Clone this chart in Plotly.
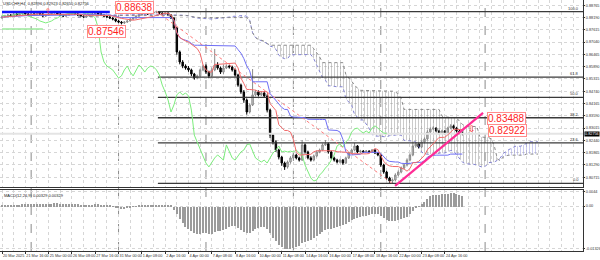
import plotly.graph_objects as go
from plotly.subplots import make_subplots
import pandas as pd

# ---------------- data ----------------
symbol_title = "USDCHF,H4  0.82896 0.82923 0.82650 0.82756"
macd_title = "MACD(12,26,9) 0.00329 0.00329"

first_open = 0.8818
closes = [
    0.8822, 0.8826, 0.8831, 0.8826, 0.8836, 0.8831, 0.8836, 0.8840, 0.8836, 0.8831,
    0.8836, 0.8831, 0.8840, 0.8836, 0.8826, 0.8831, 0.8836, 0.8840, 0.8845, 0.8836,
    0.8831, 0.8826, 0.8831, 0.8836, 0.8840, 0.8836, 0.8831, 0.8826, 0.8822, 0.8826,
    0.8831, 0.8836, 0.8840, 0.8836, 0.8831, 0.8826, 0.8822, 0.8817, 0.8812, 0.8803,
    0.8798, 0.8794, 0.8798, 0.8803, 0.8812, 0.8817, 0.8826, 0.8831, 0.8836, 0.8840,
    0.8836, 0.8840, 0.8845, 0.8846, 0.8840, 0.8836, 0.8840, 0.8831, 0.8817, 0.8770,
    0.8658, 0.8611, 0.8592, 0.8583, 0.8574, 0.8555, 0.8536, 0.8546, 0.8574, 0.8592,
    0.8564, 0.8546, 0.8574, 0.8597, 0.8583, 0.8564, 0.8583, 0.8592, 0.8588, 0.8574,
    0.8550, 0.8503, 0.8471, 0.8433, 0.8377, 0.8410, 0.8457, 0.8471, 0.8457, 0.8466,
    0.8452, 0.8386, 0.8269, 0.8237, 0.8199, 0.8166, 0.8138, 0.8120, 0.8143, 0.8162,
    0.8176, 0.8162, 0.8152, 0.8223, 0.8190, 0.8162, 0.8152, 0.8171, 0.8190, 0.8199,
    0.8223, 0.8228, 0.8190, 0.8162, 0.8152, 0.8143, 0.8152, 0.8138, 0.8162, 0.8185,
    0.8199, 0.8218, 0.8190, 0.8194, 0.8190, 0.8194, 0.8190, 0.8199, 0.8185, 0.8176,
    0.8129, 0.8096, 0.8068, 0.8054, 0.8059, 0.8082, 0.8096, 0.8115, 0.8129, 0.8152,
    0.8176, 0.8218, 0.8228, 0.8213, 0.8237, 0.8251, 0.8283, 0.8298, 0.8302, 0.8288,
    0.8279, 0.8288, 0.8279, 0.8302, 0.8312, 0.8302, 0.8288, 0.8279, 0.8276,
]
highs = [
    0.8830, 0.8832, 0.8836, 0.8835, 0.8841, 0.8840, 0.8842, 0.8845, 0.8844, 0.8839,
    0.8841, 0.8840, 0.8845, 0.8846, 0.8839, 0.8835, 0.8840, 0.8846, 0.8850, 0.8848,
    0.8839, 0.8834, 0.8835, 0.8840, 0.8844, 0.8843, 0.8839, 0.8834, 0.8830, 0.8830,
    0.8836, 0.8840, 0.8845, 0.8843, 0.8839, 0.8834, 0.8830, 0.8826, 0.8821, 0.8815,
    0.8808, 0.8803, 0.8802, 0.8807, 0.8816, 0.8822, 0.8830, 0.8835, 0.8840, 0.8844,
    0.8843, 0.8844, 0.8849, 0.8851, 0.8850, 0.8844, 0.8843, 0.8843, 0.8834, 0.8820,
    0.8775, 0.8665, 0.8620, 0.8600, 0.8592, 0.8580, 0.8560, 0.8552, 0.8580, 0.8598,
    0.8600, 0.8570, 0.8585, 0.8672, 0.8610, 0.8590, 0.8600, 0.8600, 0.8598, 0.8594,
    0.8580, 0.8556, 0.8510, 0.8480, 0.8440, 0.8418, 0.8578, 0.8480, 0.8478, 0.8474,
    0.8475, 0.8460, 0.8392, 0.8275, 0.8245, 0.8205, 0.8172, 0.8145, 0.8150, 0.8170,
    0.8185, 0.8182, 0.8168, 0.8246, 0.8230, 0.8196, 0.8170, 0.8178, 0.8196, 0.8206,
    0.8230, 0.8246, 0.8234, 0.8196, 0.8168, 0.8158, 0.8158, 0.8157, 0.8168, 0.8192,
    0.8206, 0.8232, 0.8222, 0.8200, 0.8199, 0.8199, 0.8198, 0.8204, 0.8203, 0.8190,
    0.8180, 0.8135, 0.8102, 0.8074, 0.8066, 0.8090, 0.8104, 0.8122, 0.8136, 0.8160,
    0.8184, 0.8240, 0.8236, 0.8234, 0.8244, 0.8258, 0.8292, 0.8305, 0.8310, 0.8306,
    0.8294, 0.8294, 0.8293, 0.8308, 0.8320, 0.8318, 0.8306, 0.8293, 0.8286,
]
lows = [
    0.8812, 0.8818, 0.8822, 0.8821, 0.8823, 0.8827, 0.8828, 0.8832, 0.8831, 0.8826,
    0.8828, 0.8826, 0.8829, 0.8832, 0.8821, 0.8822, 0.8827, 0.8833, 0.8837, 0.8832,
    0.8826, 0.8821, 0.8822, 0.8828, 0.8833, 0.8831, 0.8827, 0.8821, 0.8817, 0.8818,
    0.8823, 0.8828, 0.8832, 0.8831, 0.8827, 0.8821, 0.8817, 0.8812, 0.8806, 0.8797,
    0.8792, 0.8787, 0.8789, 0.8794, 0.8800, 0.8808, 0.8814, 0.8822, 0.8828, 0.8832,
    0.8831, 0.8832, 0.8836, 0.8840, 0.8836, 0.8831, 0.8832, 0.8826, 0.8812, 0.8762,
    0.8645, 0.8600, 0.8582, 0.8575, 0.8565, 0.8545, 0.8528, 0.8530, 0.8540, 0.8568,
    0.8555, 0.8535, 0.8540, 0.8568, 0.8575, 0.8555, 0.8555, 0.8578, 0.8580, 0.8566,
    0.8542, 0.8495, 0.8462, 0.8420, 0.8365, 0.8370, 0.8405, 0.8450, 0.8450, 0.8452,
    0.8445, 0.8375, 0.8255, 0.8225, 0.8190, 0.8155, 0.8125, 0.8106, 0.8112, 0.8135,
    0.8155, 0.8155, 0.8145, 0.8148, 0.8182, 0.8155, 0.8145, 0.8146, 0.8165, 0.8184,
    0.8194, 0.8218, 0.8182, 0.8155, 0.8145, 0.8136, 0.8137, 0.8130, 0.8133, 0.8157,
    0.8180, 0.8193, 0.8184, 0.8185, 0.8185, 0.8186, 0.8185, 0.8186, 0.8180, 0.8170,
    0.8120, 0.8088, 0.8060, 0.8046, 0.8040, 0.8052, 0.8076, 0.8090, 0.8108, 0.8122,
    0.8146, 0.8170, 0.8210, 0.8206, 0.8208, 0.8230, 0.8245, 0.8276, 0.8292, 0.8282,
    0.8272, 0.8273, 0.8272, 0.8274, 0.8296, 0.8296, 0.8281, 0.8272, 0.8268,
]
macd_hist = [
    0.0002, 0.0003, 0.0004, 0.0004, 0.0005, 0.0005, 0.0006, 0.0007, 0.0007, 0.0007,
    0.0008, 0.0008, 0.0009, 0.0009, 0.0008, 0.0008, 0.0008, 0.0009, 0.0010, 0.0010,
    0.0009, 0.0008, 0.0008, 0.0008, 0.0008, 0.0008, 0.0007, 0.0006, 0.0005, 0.0005,
    0.0006, 0.0006, 0.0007, 0.0007, 0.0006, 0.0005, 0.0004, 0.0003, 0.0001, -0.0002,
    -0.0005, -0.0007, -0.0007, -0.0005, -0.0003, -0.0001, 0.0001, 0.0002, 0.0003, 0.0004,
    0.0004, 0.0005, 0.0005, 0.0006, 0.0006, 0.0005, 0.0005, 0.0004, 0.0002, -0.0010,
    -0.0024, -0.0040, -0.0052, -0.0062, -0.0070, -0.0077, -0.0083, -0.0085, -0.0084, -0.0082,
    -0.0083, -0.0085, -0.0084, -0.0080, -0.0077, -0.0076, -0.0073, -0.0068, -0.0063, -0.0060,
    -0.0061, -0.0066, -0.0072, -0.0078, -0.0083, -0.0082, -0.0076, -0.0070, -0.0066, -0.0063,
    -0.0062, -0.0068, -0.0082, -0.0096, -0.0108, -0.0118, -0.0126, -0.0131, -0.0132, -0.0131,
    -0.0129, -0.0126, -0.0122, -0.0114, -0.0110, -0.0106, -0.0102, -0.0097, -0.0091, -0.0085,
    -0.0078, -0.0072, -0.0070, -0.0068, -0.0066, -0.0064, -0.0061, -0.0058, -0.0053, -0.0048,
    -0.0043, -0.0038, -0.0035, -0.0032, -0.0030, -0.0028, -0.0026, -0.0024, -0.0023, -0.0023,
    -0.0028, -0.0035, -0.0041, -0.0045, -0.0046, -0.0045, -0.0043, -0.0040, -0.0036, -0.0031,
    -0.0024, -0.0014, -0.0006, 0.0001, 0.0008, 0.0015, 0.0024, 0.0031, 0.0035, 0.0036,
    0.0037, 0.0038, 0.0038, 0.0039, 0.0041, 0.0042, 0.0040, 0.0036, 0.0033,
]

date_labels = [
    "20 Mar 2025", "21 Mar 16:00", "25 Mar 00:00", "26 Mar 08:00", "27 Mar 16:00",
    "31 Mar 00:00", "1 Apr 08:00", "2 Apr 16:00", "4 Apr 00:00", "7 Apr 08:00",
    "8 Apr 16:00", "10 Apr 00:00", "11 Apr 08:00", "14 Apr 16:00", "16 Apr 00:00",
    "17 Apr 08:00", "18 Apr 16:00", "22 Apr 00:00", "23 Apr 08:00", "24 Apr 16:00",
]
bars_per_label = 8
week_separators = [10, 40, 70, 100, 130, 165.8]

price_ticks = [0.80715, 0.81290, 0.81865, 0.82440, 0.83015, 0.83590, 0.84165, 0.84740,
               0.85315, 0.85890, 0.86465, 0.87040, 0.87615, 0.88190, 0.88765]
macd_ticks = [0.0044, 0.0, -0.01326]
macd_tick_text = ["0.0044", "0.00", "-0.01326"]

fib_anchor_bars = [53, 134]
fib_anchor_prices = [0.8847, 0.8043]
fib_ratios = [1.0, 0.618, 0.5, 0.382, 0.236, 0.0]
fib_start_bar = 53.5

trend_bars = [134.9, 165.1]
trend_prices = [0.8031, 0.8373]

blue_level_bars = [0, 37]
blue_level_price = 0.8845
green_level_bars = [0, 14]
green_level_price = 0.8765

price_labels = [0.88638, 0.87546, 0.83488, 0.82922]
price_label_bars = [38.8, 29.2, 166.4, 166.8]
arrow_up_bar, arrow_up_price = 15.8, 0.8852
arrow_down_bar, arrow_down_price = 161.3, 0.8297
bid_price = 0.82756

# ---------------- derived (Ichimoku 9/26/52) ----------------
n = len(closes)
bars = list(range(n))
opens = [first_open] + closes[:-1]
h = pd.Series(highs)
l = pd.Series(lows)
tenkan = (h.rolling(9, min_periods=1).max() + l.rolling(9, min_periods=1).min()) / 2
kijun = (h.rolling(26, min_periods=1).max() + l.rolling(26, min_periods=1).min()) / 2
span_a = ((tenkan + kijun) / 2).tolist()
span_b = ((h.rolling(52, min_periods=1).max() + l.rolling(52, min_periods=1).min()) / 2).tolist()
shift = 26
fut_x = [b + shift for b in bars]
bear_top = [b if b > a else a for a, b in zip(span_a, span_b)]
bull_bot = [b if a > b else a for a, b in zip(span_a, span_b)]
chik_x = [b - shift for b in bars[shift:]]
chik_y = closes[shift:]

# ---------------- figure ----------------
X_RANGE = [-0.69, 199.4]
fig = make_subplots(rows=2, cols=1, shared_xaxes=True, vertical_spacing=0.0)

# cloud
fig.add_trace(go.Scatter(x=fut_x, y=span_a, mode="lines", line=dict(width=0), hoverinfo="skip"), 1, 1)
fig.add_trace(go.Scatter(x=fut_x, y=bear_top, mode="lines", line=dict(width=0), fill="tonexty",
                         fillcolor="rgba(0,0,0,0)",
                         fillpattern=dict(shape="|", fgcolor="#8c8c8c", size=3, solidity=0.3)), 1, 1)
fig.add_trace(go.Scatter(x=fut_x, y=span_a, mode="lines", line=dict(width=0), hoverinfo="skip"), 1, 1)
fig.add_trace(go.Scatter(x=fut_x, y=bull_bot, mode="lines", line=dict(width=0), fill="tonexty",
                         fillcolor="rgba(0,0,0,0)",
                         fillpattern=dict(shape="|", fgcolor="#8f8fe0", size=3, solidity=0.3)), 1, 1)
fig.add_trace(go.Scatter(x=fut_x, y=span_a, mode="lines", line=dict(color="#8282d2", width=1, dash="dot")), 1, 1)
fig.add_trace(go.Scatter(x=fut_x, y=span_b, mode="lines", line=dict(color="#8a8a8a", width=1, dash="dot")), 1, 1)

# bid line
fig.add_trace(go.Scatter(x=X_RANGE, y=[bid_price, bid_price], mode="lines",
                         line=dict(color="#e4e4e4", width=2)), 1, 1)

# fibonacci
fh, fl = fib_anchor_prices
for r in fib_ratios:
    lvl = fl + r * (fh - fl)
    fig.add_trace(go.Scatter(x=[fib_start_bar, X_RANGE[1]], y=[lvl, lvl], mode="lines",
                             line=dict(color="#3a3a3a", width=1.3)), 1, 1)
    fig.add_annotation(x=198.8, y=lvl, xref="x", yref="y", text=f"{r*100:.1f}", showarrow=False,
                       xanchor="right", yanchor="bottom", yshift=-1,
                       font=dict(size=4, color="#333333", family="Liberation Sans"))
fig.add_trace(go.Scatter(x=fib_anchor_bars, y=fib_anchor_prices, mode="lines",
                         line=dict(color="#ff7a7a", width=1, dash="dot")), 1, 1)

# ichimoku lines
fig.add_trace(go.Scatter(x=chik_x, y=chik_y, mode="lines", line=dict(color="#7ded7d", width=1)), 1, 1)
fig.add_trace(go.Scatter(x=bars, y=kijun, mode="lines", line=dict(color="#6f6ff5", width=1)), 1, 1)
fig.add_trace(go.Scatter(x=bars, y=tenkan, mode="lines", line=dict(color="#f26a6a", width=1)), 1, 1)

# candles
fig.add_trace(go.Candlestick(x=bars, open=opens, high=highs, low=lows, close=closes,
                             increasing=dict(line=dict(color="#8a8a8a", width=1), fillcolor="#cfcfcf"),
                             decreasing=dict(line=dict(color="#000000", width=1), fillcolor="#000000"),
                             whiskerwidth=0), 1, 1)

# drawn objects
fig.add_trace(go.Scatter(x=blue_level_bars, y=[blue_level_price] * 2, mode="lines",
                         line=dict(color="#1010ff", width=2.5)), 1, 1)
fig.add_trace(go.Scatter(x=green_level_bars, y=[green_level_price] * 2, mode="lines",
                         line=dict(color="#9be89b", width=1.5)), 1, 1)
fig.add_trace(go.Scatter(x=trend_bars, y=trend_prices, mode="lines",
                         line=dict(color="#ff2d95", width=2.2)), 1, 1)

for v, b in zip(price_labels, price_label_bars):
    fig.add_annotation(x=b, y=v, xref="x", yref="y", text=f"{v:.5f}", showarrow=False,
                       xanchor="left", yanchor="middle", bgcolor="white",
                       bordercolor="#ff8c8c", borderwidth=1, borderpad=0,
                       font=dict(size=10, color="#ff1e1e", family="Liberation Sans"))
fig.add_annotation(x=arrow_up_bar, y=arrow_up_price, xref="x", yref="y", text="⇧", showarrow=False,
                   font=dict(size=7, color="#ff2a2a", family="DejaVu Sans"))
fig.add_annotation(x=arrow_down_bar, y=arrow_down_price, xref="x", yref="y", text="⇩", showarrow=False,
                   font=dict(size=9, color="#ff2a2a", family="DejaVu Sans"))

# macd histogram
fig.add_trace(go.Bar(x=bars, y=macd_hist, marker=dict(color="#9b9b9b", line=dict(width=0)), width=0.4), 2, 1)

# titles / price box
fig.add_annotation(x=0.004, y=1.0, xref="paper", yref="paper", text=symbol_title, showarrow=False,
                   xanchor="left", yanchor="top", borderpad=0,
                   font=dict(size=4, color="#222", family="Liberation Sans"))
fig.add_annotation(x=0.004, y=0.238, xref="paper", yref="paper", text=macd_title, showarrow=False,
                   xanchor="left", yanchor="top", font=dict(size=4, color="#222", family="Liberation Sans"))
fig.add_annotation(x=1.0, y=bid_price, xref="paper", yref="y", text=f"{bid_price:.5f}", showarrow=False,
                   xanchor="left", yanchor="middle", bgcolor="black", borderpad=0, xshift=1,
                   font=dict(size=3.8, color="white", family="Liberation Sans"))

# separators
for s in week_separators:
    fig.add_shape(type="line", xref="x", yref="paper", x0=s, x1=s, y0=0, y1=1,
                  line=dict(color="#8a8a8a", width=1, dash="dash"), layer="below")

axis_font = dict(size=3.8, color="#333333", family="Liberation Sans")
grid = dict(showgrid=True, gridcolor="#d6d6d6", griddash="dot", gridwidth=1)
tickvals = [i * bars_per_label for i in range(len(date_labels))]
minor = dict(dtick=4, tick0=0, showgrid=True, gridcolor="#d6d6d6", griddash="dot")

fig.update_layout(
    width=600, height=260, margin=dict(l=0, r=17, t=0, b=9, autoexpand=False),
    paper_bgcolor="white", plot_bgcolor="white", showlegend=False, bargap=0,
    xaxis=dict(range=X_RANGE, tickvals=tickvals, ticktext=date_labels, showticklabels=False,
               showline=True, mirror=True, linecolor="#333333", linewidth=1, automargin=False,
               rangeslider=dict(visible=False), zeroline=False, minor=minor, **grid),
    xaxis2=dict(range=X_RANGE, tickvals=tickvals, ticktext=date_labels, tickfont=axis_font,
                tickangle=0, ticklabelposition="outside right", ticks="outside", ticklen=2,
                tickcolor="#333", automargin=False,
                showline=True, mirror=True, linecolor="#333333", linewidth=1, zeroline=False,
                minor=minor, **grid),
    yaxis=dict(domain=[0.255, 1.0], range=[0.8026, 0.89012], side="right", tickvals=price_ticks,
               ticktext=[f"{v:.5f}" for v in price_ticks], tickfont=axis_font, automargin=False,
               ticks="outside", ticklen=1, tickcolor="#333",
               showline=True, mirror=True, linecolor="#333333", linewidth=1, zeroline=False, **grid),
    yaxis2=dict(domain=[0.0, 0.245], range=[-0.0139, 0.0051], side="right", tickvals=macd_ticks,
                ticktext=macd_tick_text, tickfont=axis_font, ticks="outside", ticklen=1, tickcolor="#333",
                automargin=False,
                showline=True, mirror=True, linecolor="#333333", linewidth=1, zeroline=False, **grid),
)

fig.write_html("out.html")
